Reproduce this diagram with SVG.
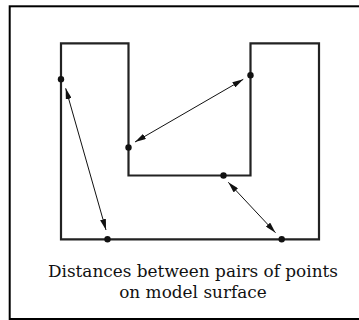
<svg xmlns="http://www.w3.org/2000/svg" width="359" height="320" viewBox="0 0 359 320">
<defs>
<style>
.frame{fill:none;stroke:#000;stroke-width:2}
.shape{fill:none;stroke:#222;stroke-width:2.2;stroke-linejoin:miter}
.pt{fill:#111}
.arrow{stroke:#111;stroke-width:1;fill:none;marker-start:url(#ah);marker-end:url(#ah)}
.cap{font-family:"DejaVu Serif","Liberation Serif",serif;font-size:16.9px;fill:#111;text-anchor:middle}
</style>
<marker id="ah" markerUnits="userSpaceOnUse" viewBox="0 0 11 6" refX="11" refY="3" markerWidth="11" markerHeight="6" orient="auto-start-reverse">
<path d="M0,0 L11,3 L0,6 Z" fill="#111"/>
</marker>
</defs>
<rect width="359" height="320" fill="#fff"/>
<rect class="frame" x="9.7" y="6.3" width="360" height="312.7"/>
<g id="model">
<path class="shape" d="M61,43.3 H128.5 V175.5 H250.5 V43.3 H319 V239.3 H61 Z"/>
</g>
<g id="points">
<circle class="pt" cx="61" cy="79.3" r="3.2"/>
<circle class="pt" cx="128.5" cy="147.5" r="3.2"/>
<circle class="pt" cx="250.5" cy="75.3" r="3.2"/>
<circle class="pt" cx="223.5" cy="175.5" r="3.2"/>
<circle class="pt" cx="107.5" cy="239.3" r="3.2"/>
<circle class="pt" cx="281.7" cy="239.3" r="3.2"/>
</g>
<g id="connectors">
<line class="arrow" x1="65.7" y1="88.3" x2="106" y2="230"/>
<line class="arrow" x1="243.3" y1="79.3" x2="135" y2="142"/>
<line class="arrow" x1="228.3" y1="182.3" x2="275.5" y2="232.7"/>
</g>
<g id="caption">
<text class="cap" x="193" y="277.3">Distances between pairs of points</text>
<text class="cap" x="193" y="297.8">on model surface</text>
</g>
</svg>
